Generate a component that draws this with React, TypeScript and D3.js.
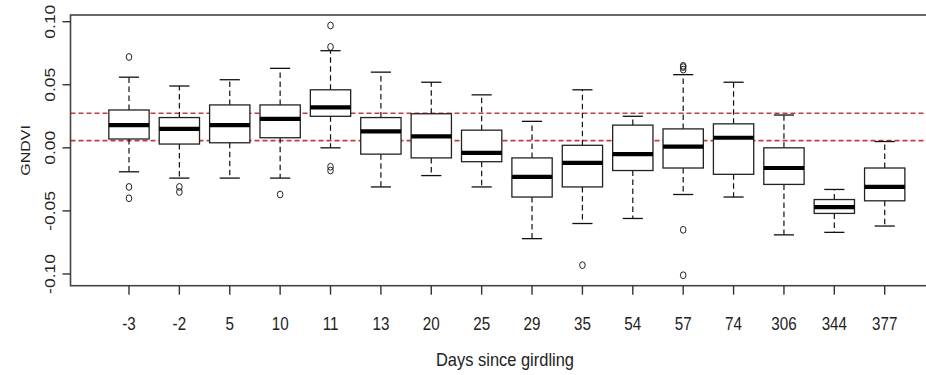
import React from "react";
import * as d3 from "d3";

// GNDVI distribution per sampling date (days since girdling)
const days = ["-3", "-2", "5", "10", "11", "13", "20", "25", "29", "35", "54", "57", "74", "306", "344", "377"];
const upperWhisker = [0.056, 0.049, 0.054, 0.063, 0.077, 0.060, 0.052, 0.042, 0.021, 0.046, 0.025, 0.058, 0.052, 0.026, -0.033, 0.005];
const q3 = [0.030, 0.024, 0.034, 0.034, 0.046, 0.024, 0.027, 0.014, -0.008, 0.002, 0.018, 0.015, 0.019, 0.000, -0.041, -0.016];
const medians = [0.018, 0.015, 0.018, 0.023, 0.032, 0.013, 0.009, -0.004, -0.023, -0.012, -0.005, 0.001, 0.008, -0.016, -0.047, -0.031];
const q1 = [0.007, 0.003, 0.004, 0.008, 0.025, -0.005, -0.008, -0.011, -0.039, -0.031, -0.018, -0.016, -0.021, -0.029, -0.052, -0.042];
const lowerWhisker = [-0.019, -0.024, -0.024, -0.024, 0.000, -0.031, -0.022, -0.031, -0.072, -0.060, -0.056, -0.037, -0.039, -0.069, -0.067, -0.062];
const outliers: number[][] = [
  [0.072, -0.031, -0.040],
  [-0.031, -0.035],
  [],
  [-0.037],
  [0.097, 0.080, -0.015, -0.018],
  [],
  [],
  [],
  [],
  [-0.093],
  [],
  [0.062, 0.064, 0.065, -0.065, -0.101],
  [],
  [],
  [],
  [],
];

// Reference band limits
const refLines = [0.0274, 0.0057];

const yTicks = [-0.1, -0.05, 0, 0.05, 0.1];
const yTickLabels = ["-0.10", "-0.05", "0.00", "0.05", "0.10"];

const W = 926;
const H = 375;
const plotLeft = 70.5;
const plotRight = 941;
const plotTop = 15;
const plotBottom = 285.7;
const FONT = "'Liberation Sans', Arial, sans-serif";

export default function App() {
  const x = d3.scaleBand<string>().domain(days).range([103.8, 909.9]).padding(0);
  const y = d3.scaleLinear().domain([-0.1093, 0.1053]).range([plotBottom, plotTop]);
  const bw = x.bandwidth();
  const boxW = bw * 0.8;
  const capW = boxW * 0.5;

  return (
    <svg
      width={W}
      height={H}
      style={{ position: "absolute", left: 0, top: 0, background: "#fff" }}
      fontFamily={FONT}
    >
      {/* reference band */}
      {refLines.map((v, i) => (
        <line
          key={"ref" + i}
          x1={plotLeft}
          x2={plotRight}
          y1={y(v)}
          y2={y(v)}
          stroke="#c93a3a"
          strokeWidth={1.6}
          strokeDasharray="5,3"
        />
      ))}

      {/* boxes */}
      {days.map((d, i) => {
        const cx = (x(d) as number) + bw / 2;
        return (
          <g key={d}>
            <line x1={cx} x2={cx} y1={y(q3[i])} y2={y(upperWhisker[i])} stroke="#111" strokeWidth={1.2} strokeDasharray="5.5,3.5" />
            <line x1={cx} x2={cx} y1={y(q1[i])} y2={y(lowerWhisker[i])} stroke="#111" strokeWidth={1.2} strokeDasharray="5.5,3.5" />
            <line x1={cx - capW / 2} x2={cx + capW / 2} y1={y(upperWhisker[i])} y2={y(upperWhisker[i])} stroke="#111" strokeWidth={1.3} />
            <line x1={cx - capW / 2} x2={cx + capW / 2} y1={y(lowerWhisker[i])} y2={y(lowerWhisker[i])} stroke="#111" strokeWidth={1.3} />
            <rect
              x={cx - boxW / 2}
              y={y(q3[i])}
              width={boxW}
              height={y(q1[i]) - y(q3[i])}
              fill="#fff"
              stroke="#222"
              strokeWidth={1.3}
            />
            <line x1={cx - boxW / 2} x2={cx + boxW / 2} y1={y(medians[i])} y2={y(medians[i])} stroke="#000" strokeWidth={4.2} />
            {outliers[i].map((v, j) => (
              <ellipse key={j} cx={cx} cy={y(v)} rx={2.8} ry={3.4} fill="none" stroke="#222" strokeWidth={1} />
            ))}
          </g>
        );
      })}

      {/* plot frame */}
      <rect
        x={plotLeft}
        y={plotTop}
        width={plotRight - plotLeft}
        height={plotBottom - plotTop}
        fill="none"
        stroke="#444"
        strokeWidth={1.6}
      />

      {/* y axis */}
      {yTicks.map((t, i) => (
        <g key={"yt" + i}>
          <line x1={plotLeft - 8} x2={plotLeft} y1={y(t)} y2={y(t)} stroke="#333" strokeWidth={1.4} />
          <text
            transform={`translate(55,${y(t)}) rotate(-90) scale(1,0.8)`}
            textAnchor="middle"
            fontSize={17.5}
            fill="#222"
          >
            {yTickLabels[i]}
          </text>
        </g>
      ))}
      <text
        transform={`translate(30,${(plotTop + plotBottom) / 2}) rotate(-90) scale(1,0.8)`}
        textAnchor="middle"
        fontSize={16}
        fill="#222"
      >
        GNDVI
      </text>

      {/* x axis */}
      {days.map((d) => {
        const cx = (x(d) as number) + bw / 2;
        return (
          <g key={"xt" + d}>
            <line x1={cx} x2={cx} y1={plotBottom} y2={plotBottom + 9} stroke="#333" strokeWidth={1.4} />
            <text
              transform={`translate(${cx},330) scale(0.8,1)`}
              textAnchor="middle"
              fontSize={19}
              fill="#222"
            >
              {d}
            </text>
          </g>
        );
      })}
      <text
        x={505}
        y={366}
        textAnchor="middle"
        fontSize={19}
        fill="#222"
        textLength={138}
        lengthAdjust="spacingAndGlyphs"
      >
        Days since girdling
      </text>
    </svg>
  );
}
